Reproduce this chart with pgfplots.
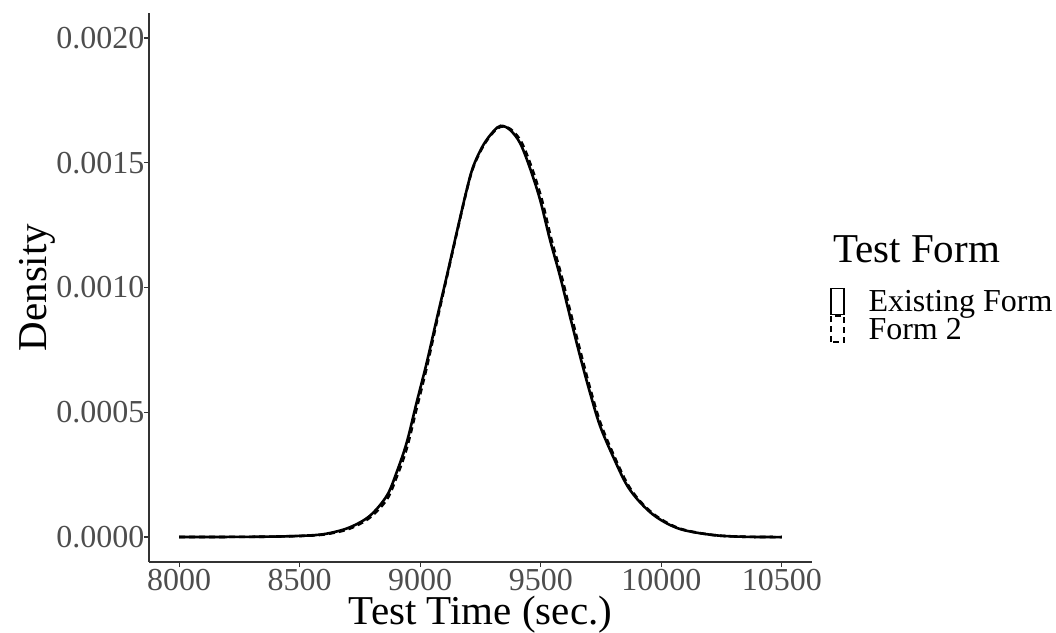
\documentclass[border=0pt]{standalone}
\usepackage{fontspec}
\setmainfont{Liberation Serif}
\usepackage{pgfplots}
\pgfplotsset{compat=1.18}
\usepackage{pgfplotstable}
\definecolor{gtwenty}{HTML}{333333}
\definecolor{gthirty}{HTML}{4D4D4D}

\pgfplotstableread{
x y
8000 0
8200 0.0000004
8400 0.000002
8550 0.000007
8625 0.000016
8708 0.000039
8791 0.000085
8861 0.000165
8902 0.000259
8944 0.000379
8985 0.000539
9027 0.000699
9068 0.000872
9110 0.001045
9151 0.001219
9193 0.001392
9220 0.001485
9261 0.001570
9303 0.001625
9334 0.001648
9372 0.001632
9414 0.001579
9455 0.001479
9497 0.001352
9538 0.001192
9580 0.001045
9621 0.000885
9663 0.000725
9704 0.000579
9746 0.000445
9801 0.000320
9856 0.000210
9912 0.000139
9981 0.000079
10078 0.000032
10216 0.000008
10350 0.000001
10500 0
}\existing

\pgfplotstableread{
x y
8000 0
8200 0.0000004
8400 0.000002
8550 0.000006
8625 0.000014
8708 0.000034
8791 0.000078
8861 0.000150
8902 0.000240
8944 0.000355
8985 0.000515
9027 0.000680
9068 0.000860
9110 0.001040
9151 0.001215
9193 0.001390
9220 0.001482
9261 0.001566
9303 0.001622
9338 0.001645
9378 0.001632
9420 0.001582
9461 0.001484
9503 0.001357
9543 0.001197
9585 0.001050
9626 0.000890
9668 0.000730
9708 0.000584
9750 0.000450
9805 0.000323
9860 0.000212
9915 0.000140
9985 0.000080
10080 0.000033
10216 0.000008
10350 0.000001
10500 0
}\formtwo

\begin{document}
\begin{tikzpicture}
\path[use as bounding box] (-149pt,-70pt) rectangle (907pt,562pt);
\begin{axis}[
  at={(0pt,0pt)}, anchor=south west,
  scale only axis,
  width=663pt, height=549pt,
  xmin=7875, xmax=10625,
  ymin=-0.0001, ymax=0.0021,
  axis x line=bottom, axis y line=left,
  axis line style={-, draw=gtwenty, line width=1.3pt},
  xtick={8000,8500,9000,9500,10000,10500},
  ytick={0,0.0005,0.001,0.0015,0.002},
  scaled y ticks=false,
  scaled x ticks=false,
  /pgf/number format/assume math mode=true,
  yticklabel style={/pgf/number format/fixed, /pgf/number format/fixed zerofill, /pgf/number format/precision=4, xshift=4pt},
  xticklabel style={/pgf/number format/1000 sep={}, yshift=1pt},
  ticklabel style={font=\fontsize{32}{36}\selectfont, text=gthirty},
  tick align=outside,
  major tick length=5pt,
  tick style={draw=gtwenty, line width=1.2pt},
  xlabel={Test Time (sec.)},
  ylabel={Density},
  label style={font=\fontsize{41}{46}\selectfont},
  xlabel style={yshift=2pt},
  ylabel style={yshift=-6pt},
  legend style={
    at={(axis description cs:1.027,0.5)}, anchor=north west,
    draw=none, fill=none, inner sep=0pt, row sep=0pt,
    font=\fontsize{32}{36}\selectfont,
    nodes={inner sep=0pt, text height=22pt, text depth=4pt},
    /tikz/every odd column/.append style={column sep=24pt},
  },
  legend cell align=left,
  legend image code/.code={\draw[#1, line width=1.4pt] (0pt,-12pt) rectangle (13pt,14pt);},
  clip=false,
]
\addplot[black, line width=2.6pt, smooth, tension=0.55] table[x=x,y=y]{\existing};
\addlegendentry{Existing Form}
\addplot[black, line width=2.6pt, dash pattern=on 6pt off 4pt, smooth, tension=0.55] table[x=x,y=y]{\formtwo};
\addlegendentry{Form 2}
\end{axis}
\node[anchor=base west, font=\fontsize{41}{46}\selectfont, inner sep=0pt] at (684pt,299pt) {Test Form};
\end{tikzpicture}
\end{document}
